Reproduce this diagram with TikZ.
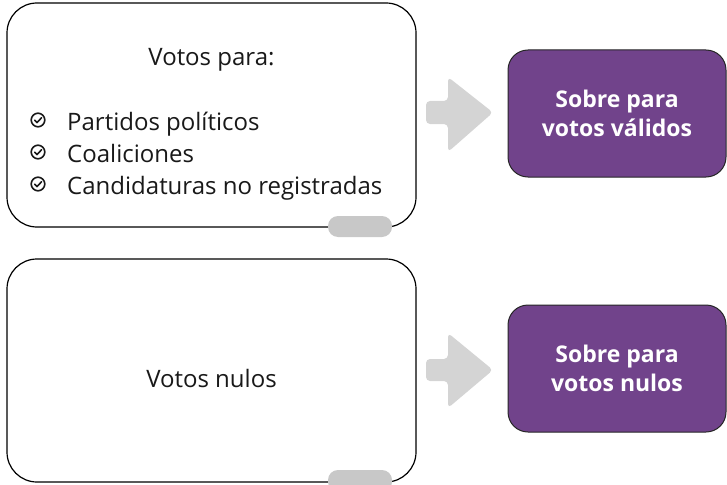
\documentclass[tikz,border=0pt]{standalone}
\usepackage{fontspec}
\setmainfont{Open Sans}
\definecolor{purp}{HTML}{71438B}
\definecolor{arrgray}{HTML}{D4D4D4}
\definecolor{pillgray}{HTML}{C8C8C8}
\begin{document}
\begin{tikzpicture}[x=1pt,y=-1pt,
  whitebox/.style={draw=black, line width=1.2pt, rounded corners=30pt, fill=white},
  purpbox/.style={draw=black!85, line width=1pt, fill=purp, rounded corners=20pt,
    minimum width=218pt, minimum height=127pt, text=white, font=\fontsize{23}{29}\selectfont\bfseries, align=center},
  pill/.style={fill=pillgray, rounded corners=10pt},
  blockarrow/.style={fill=arrgray, rounded corners=4pt},
  txt/.style={font=\fontsize{24}{32}\selectfont, text=black!90, inner sep=0pt},
  chk/.style={line width=1.6pt, black!90}
]
\useasboundingbox (0,0) rectangle (727,484);
% boxes
\draw[whitebox] (7,3) rectangle (416,227);
\node[inner sep=0pt] (b1) at (211.5,115) {};
\draw[whitebox] (7,259) rectangle (416,482);
\node[inner sep=0pt] (b2) at (211.5,370) {};
% pills
\fill[pill] (328,216) rectangle (392,237);
\fill[pill] (328,470) rectangle (392,492);
% purple boxes
\node[purpbox] (p1) at (617,113.5) {Sobre para\\votos válidos};
\node[purpbox] (p2) at (617,368.5) {Sobre para\\votos nulos};
% arrows
\fill[blockarrow] (426,101) -- (448,101) -- (448,77) -- (493,112.5) -- (448,152) -- (448,124) -- (426,124) -- cycle;
\fill[blockarrow] (426,359) -- (448,359) -- (448,333) -- (493,370) -- (448,408) -- (448,381) -- (426,381) -- cycle;
% texts
\node[txt, anchor=base] (t0) at (211.5,66) {Votos para:};
\node[txt, anchor=base west] (t1) at (67,130) {Partidos políticos};
\node[txt, anchor=base west] (t2) at (67,162) {Coaliciones};
\node[txt, anchor=base west] (t3) at (67,194) {Candidaturas no registradas};
\node[txt, anchor=base] (t4) at (211.5,387) {Votos nulos};
% check icons
\foreach \yy in {120,152,184}{
  \draw[chk] (38,\yy) circle (6.8pt);
  \draw[chk, line cap=round, line join=round] (34.6,\yy+0.2) -- (37,\yy+2.6) -- (41.5,\yy-2.2);
}
\end{tikzpicture}
\end{document}
